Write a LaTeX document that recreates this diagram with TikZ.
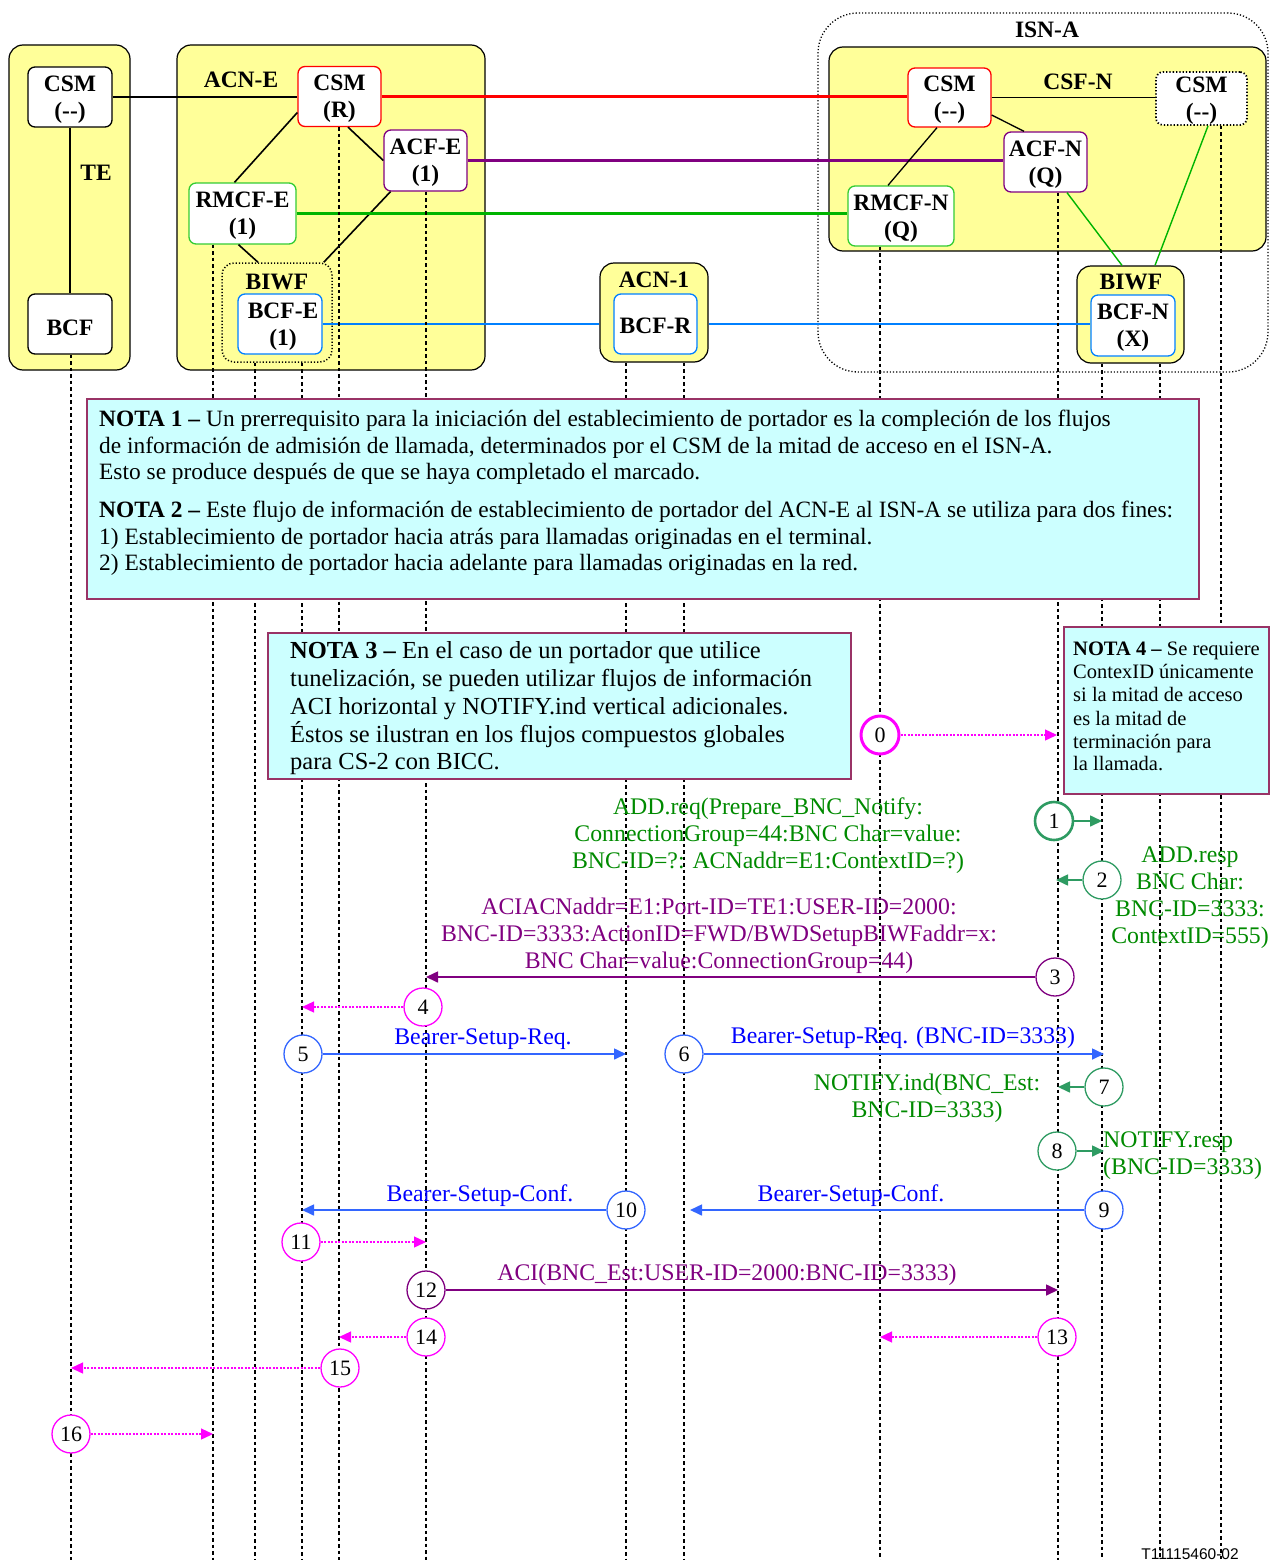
\documentclass[tikz,border=0pt]{standalone}
\usepackage{fontspec}
\setmainfont{Liberation Serif}
\newfontfamily\footfont{Liberation Sans}
\usetikzlibrary{arrows.meta}
\definecolor{yel}{HTML}{FFFF99}
\definecolor{cyanfill}{HTML}{CCFFFF}
\definecolor{noteb}{HTML}{993366}
\definecolor{cred}{HTML}{FF0000}
\definecolor{cpurp}{HTML}{800080}
\definecolor{cgreen}{HTML}{00B400}
\definecolor{cboxgreen}{HTML}{33CC33}
\definecolor{cblue}{HTML}{0080FF}
\definecolor{mblue}{HTML}{3366FF}
\definecolor{tblue}{HTML}{0000FF}
\definecolor{mgreen}{HTML}{2E9B62}
\definecolor{tgreen}{HTML}{008A00}
\definecolor{cmag}{HTML}{FF00FF}
\newcommand\lblfont{\bfseries\fontsize{23.5}{27}\selectfont}
\newcommand\noteAfont{\fontsize{23.4}{26.5}\selectfont}
\newcommand\noteCfont{\fontsize{24.5}{27.7}\selectfont}
\newcommand\noteDfont{\fontsize{20.5}{23}\selectfont}
\newcommand\msgfont{\fontsize{23.8}{27}\selectfont}
\newcommand\numfont{\fontsize{22}{22}\selectfont}
\begin{document}
\begin{tikzpicture}[x=1pt,y=-1pt,
  grp/.style={draw=black, fill=yel, rounded corners=14pt, line width=1.2pt, inner sep=0pt},
  fn/.style={draw=#1, fill=white, rounded corners=7pt, line width=1.3pt, align=center, inner sep=0pt, text depth=0pt, font=\lblfont},
  glabel/.style={font=\lblfont, inner sep=0pt},
  sline/.style={draw=black, line width=1.6pt},
  cline/.style={draw=#1, line width=2.2pt},
  life/.style={draw=black, line width=1.6pt, dash pattern=on 3.5pt off 3pt},
  notebox/.style={draw=noteb, fill=cyanfill, line width=2pt, inner sep=0pt},
  ntxt/.style={anchor=base west, inner sep=0pt},
  num/.style={circle, draw=#1, fill=white, minimum size=38pt, inner sep=0pt, line width=1.3pt, font=\numfont},
  msg/.style={draw=#1, line width=1.6pt, -{Triangle[length=12pt,width=11pt]}},
  dmsg/.style={draw=cmag, line width=1.3pt, dash pattern=on 2pt off 1.5pt, -{Triangle[length=12pt,width=11pt]}},
  mlabel/.style={text=#1, font=\msgfont, align=center, inner sep=0pt},
]
\useasboundingbox (0,0) rectangle (1270,1560);

% ---------- groups ----------
\node[grp, draw=black, dotted, fill=none, rounded corners=40pt, line width=1.3pt, minimum width=450pt, minimum height=359pt] (isnA) at (1043,192.5) {};
\node[glabel] (isnAl) at (1047,30) {ISN-A};
\node[grp, minimum width=121pt, minimum height=325pt] (te) at (69.5,207.5) {};
\node[grp, minimum width=308pt, minimum height=325pt] (acnE) at (331,207.5) {};
\node[grp, dotted, line width=1.5pt, rounded corners=12pt, minimum width=110pt, minimum height=99pt] (biwfE) at (277,312.5) {};
\node[grp, minimum width=108pt, minimum height=99pt] (acn1) at (654,312.5) {};
\node[grp, minimum width=437pt, minimum height=204pt] (csfN) at (1047.5,149) {};
\node[grp, minimum width=107pt, minimum height=97pt] (biwfN) at (1130.5,314.5) {};

\node[glabel] (tel) at (96,173) {TE};
\node[glabel] (acnEl) at (241,80) {ACN-E};
\node[glabel] (biwfEl) at (277,282) {BIWF};
\node[glabel] (acn1l) at (654,280) {ACN-1};
\node[glabel] (csfNl) at (1078,82) {CSF-N};
\node[glabel] (biwfNl) at (1131,282) {BIWF};

% ---------- functional entities ----------
\node[fn=black, minimum width=84pt, minimum height=60pt] (csmL) at (70,97) {CSM\\(-{}-)};
\node[fn=black, minimum width=84pt, minimum height=60pt, text height=22pt] (bcf) at (70,324) {BCF};
\node[fn=cred, minimum width=83pt, minimum height=60pt] (csmR) at (339.5,96.5) {CSM\\(R)};
\node[fn=cpurp, minimum width=83pt, minimum height=61pt] (acfE) at (425.5,160.5) {ACF-E\\(1)};
\node[fn=cboxgreen, minimum width=107pt, minimum height=61pt] (rmcfE) at (242.5,213.5) {RMCF-E\\(1)};
\node[fn=cblue, minimum width=84pt, minimum height=60pt] (bcfE) at (280,324) {\hspace*{6pt}BCF-E\\\hspace*{6pt}(1)};
\node[fn=cblue, minimum width=83pt, minimum height=60pt, text height=18pt] (bcfR) at (655.5,324) {BCF-R};
\node[fn=cred, minimum width=83pt, minimum height=59pt] (csmN) at (949.5,97.5) {CSM\\(-{}-)};
\node[fn=black, dotted, line width=1.8pt, minimum width=91pt, minimum height=53pt] (csmD) at (1201.5,98.5) {CSM\\(-{}-)};
\node[fn=cpurp, minimum width=83pt, minimum height=60pt] (acfN) at (1045.5,162) {ACF-N\\(Q)};
\node[fn=cboxgreen, minimum width=106pt, minimum height=60pt] (rmcfN) at (901,216) {RMCF-N\\(Q)};
\node[fn=cblue, minimum width=84pt, minimum height=61pt] (bcfN) at (1133,325.5) {BCF-N\\(X)};

% ---------- structural links ----------
\draw[sline] (csmL.east) -- (csmR.west |- csmL.east);
\draw[sline] (csmL.south) -- (bcf.north);
\draw[sline] ([yshift=-16pt]csmR.west) -- ([xshift=-8pt]rmcfE.north);
\draw[sline] ([xshift=8.5pt]csmR.south) -- (acfE.west);
\draw[sline] ([xshift=-35pt]acfE.south) -- ([xshift=-9pt]biwfE.north east);
\draw[sline] ([xshift=-4pt]rmcfE.south) -- ([xshift=-19pt]biwfE.north);
\draw[cline=cred] (csmR.east) -- (csmN.west |- csmR.east);
\draw[cline=cpurp] (acfE.east) -- (acfN.west |- acfE.east);
\draw[cline=cgreen] (rmcfE.east) -- (rmcfN.west |- rmcfE.east);
\draw[cline=cblue] (bcfE.east) -- (acn1.west |- bcfE.east);
\draw[cline=cblue] (acn1.east |- bcfE.east) -- (bcfN.west |- bcfE.east);
\draw[sline] (csmN.east) -- (csmD.west |- csmN.east);
\draw[draw=black, line width=1.3pt] ([xshift=-12.5pt]csmN.south) -- ([xshift=-13pt]rmcfN.north);
\draw[draw=black, line width=1.3pt] ([yshift=-17.5pt]csmN.east) -- ([xshift=-21.5pt]acfN.north);
\draw[draw=cgreen, line width=1.4pt] ([xshift=21.5pt]acfN.south) -- ([xshift=-8.5pt]biwfN.north);
\draw[draw=cgreen, line width=1.4pt] ([xshift=6.5pt]csmD.south) -- ([xshift=24.5pt]biwfN.north);

% ---------- lifelines ----------
\draw[life] (bcf.south -| 71,0) -- (71,1560);
\draw[life] (rmcfE.south -| 213,0) -- (213,1560);
\draw[life] (biwfE.south -| 255,0) -- (255,1560);
\draw[life] (biwfE.south -| 302,0) -- (302,1560);
\draw[life] (csmR.south -| 339,0) -- (339,1560);
\draw[life] (acfE.south -| 426,0) -- (426,1560);
\draw[life] (acn1.south -| 626,0) -- (626,1560);
\draw[life] (acn1.south -| 684,0) -- (684,1560);
\draw[life] (rmcfN.south -| 880,0) -- (880,1560);
\draw[life] (acfN.south -| 1058,0) -- (1058,1560);
\draw[life] (biwfN.south -| 1102,0) -- (1102,1560);
\draw[life] (biwfN.south -| 1160,0) -- (1160,1560);
\draw[life] (csmD.south -| 1221,0) -- (1221,1560);

% ---------- notes ----------
\node[notebox, minimum width=1112pt, minimum height=200pt] (note12) at (643,498.5) {};
\begin{scope}[every node/.style={ntxt, font=\noteAfont}]
\node (n1a) at (99,426) {\textbf{NOTA 1 –} Un prerrequisito para la iniciación del establecimiento de portador es la compleción de los flujos};
\node (n1b) at (99,453) {de información de admisión de llamada, determinados por el CSM de la mitad de acceso en el ISN-A.};
\node (n1c) at (99,479) {Esto se produce después de que se haya completado el marcado.};
\node (n2a) at (99,517) {\textbf{NOTA 2 –} Este flujo de información de establecimiento de portador del ACN-E al ISN-A se utiliza para dos fines:};
\node (n2b) at (99,544) {1) Establecimiento de portador hacia atrás para llamadas originadas en el terminal.};
\node (n2c) at (99,570) {2) Establecimiento de portador hacia adelante para llamadas originadas en la red.};
\end{scope}

\node[notebox, minimum width=583pt, minimum height=146pt] (note3) at (559.5,706) {};
\begin{scope}[every node/.style={ntxt, font=\noteCfont}]
\node (n3a) at (290,658) {\textbf{NOTA 3 –} En el caso de un portador que utilice};
\node (n3b) at (290,686) {tunelización, se pueden utilizar flujos de información};
\node (n3c) at (290,714) {ACI horizontal y NOTIFY.ind vertical adicionales.};
\node (n3d) at (290,742) {Éstos se ilustran en los flujos compuestos globales};
\node (n3e) at (290,769) {para CS-2 con BICC.};
\end{scope}

\node[notebox, minimum width=205pt, minimum height=167pt] (note4) at (1166.5,710.5) {};
\begin{scope}[every node/.style={ntxt, font=\noteDfont}]
\node (n4a) at (1073,655) {\textbf{NOTA 4 –} Se requiere};
\node (n4b) at (1073,678) {ContexID únicamente};
\node (n4c) at (1073,701) {si la mitad de acceso};
\node (n4d) at (1073,725) {es la mitad de};
\node (n4e) at (1073,748) {terminación para};
\node (n4f) at (1073,770) {la llamada.};
\end{scope}

% ---------- messages ----------
\node[num=cmag, line width=3pt] (c0) at (880,735) {0};
\coordinate (t0) at (1057,735);
\draw[dmsg] (c0) -- (t0);

\node[num=mgreen, line width=2.6pt] (c1) at (1054,821) {1};
\coordinate (t1) at (1102,821);
\draw[msg=mgreen] (c1) -- (t1);
\node[mlabel=tgreen] (l1) at (768,836) {ADD.req(Prepare\_BNC\_Notify:\\ConnectionGroup=44:BNC Char=value:\\BNC-ID=?: ACNaddr=E1:ContextID=?)};

\node[num=mgreen] (c2) at (1102,880) {2};
\coordinate (t2) at (1056,880);
\draw[msg=mgreen] (c2) -- (t2);
\node[mlabel=tgreen] (l2) at (1190,897.5) {ADD.resp\\BNC Char:\\BNC-ID=3333:\\ContextID=555)};

\node[num=cpurp] (c3) at (1055,977) {3};
\coordinate (t3) at (426,977);
\draw[msg=cpurp] (c3) -- (t3);
\node[mlabel=cpurp] (l3) at (719,936) {ACIACNaddr=E1:Port-ID=TE1:USER-ID=2000:\\BNC-ID=3333:ActionID=FWD/BWDSetupBIWFaddr=x:\\BNC Char=value:ConnectionGroup=44)};

\node[num=cmag] (c4) at (423,1007) {4};
\coordinate (t4) at (302,1007);
\draw[dmsg] (c4) -- (t4);

\node[num=mblue] (c5) at (303,1054) {5};
\coordinate (t5) at (626,1054);
\draw[msg=mblue] (c5) -- (t5);
\node[mlabel=tblue] (l5) at (483,1039) {Bearer-Setup-Req.};

\node[num=mblue] (c6) at (684,1054) {6};
\coordinate (t6) at (1104,1054);
\draw[msg=mblue] (c6) -- (t6);
\node[mlabel=tblue] (l6) at (903,1038) {Bearer-Setup-Req. (BNC-ID=3333)};

\node[num=mgreen] (c7) at (1104,1087) {7};
\coordinate (t7) at (1058,1087);
\draw[msg=mgreen] (c7) -- (t7);
\node[mlabel=tgreen] (l7) at (927,1098.5) {NOTIFY.ind(BNC\_Est:\\BNC-ID=3333)};

\node[num=mgreen] (c8) at (1057,1151) {8};
\coordinate (t8) at (1104,1151);
\draw[msg=mgreen] (c8) -- (t8);
\node[mlabel=tgreen, align=left, anchor=west] (l8) at (1103,1155.5) {NOTIFY.resp\\(BNC-ID=3333)};

\node[num=mblue] (c9) at (1104,1210) {9};
\coordinate (t9) at (690,1210);
\draw[msg=mblue] (c9) -- (t9);
\node[mlabel=tblue] (l9) at (851,1196) {Bearer-Setup-Conf.};

\node[num=mblue] (c10) at (626,1210) {10};
\coordinate (t10) at (302,1210);
\draw[msg=mblue] (c10) -- (t10);
\node[mlabel=tblue] (l10) at (480,1196) {Bearer-Setup-Conf.};

\node[num=cmag] (c11) at (301,1242) {11};
\coordinate (t11) at (426,1242);
\draw[dmsg] (c11) -- (t11);

\node[num=cpurp] (c12) at (426,1290) {12};
\coordinate (t12) at (1058,1290);
\draw[msg=cpurp] (c12) -- (t12);
\node[mlabel=cpurp] (l12) at (727,1275) {ACI(BNC\_Est:USER-ID=2000:BNC-ID=3333)};

\node[num=cmag] (c13) at (1057,1337) {13};
\coordinate (t13) at (880,1337);
\draw[dmsg] (c13) -- (t13);

\node[num=cmag] (c14) at (426,1337) {14};
\coordinate (t14) at (339,1337);
\draw[dmsg] (c14) -- (t14);

\node[num=cmag] (c15) at (340,1368) {15};
\coordinate (t15) at (71,1368);
\draw[dmsg] (c15) -- (t15);

\node[num=cmag] (c16) at (71,1434) {16};
\coordinate (t16) at (213,1434);
\draw[dmsg] (c16) -- (t16);

\node[anchor=base, inner sep=0pt, font=\footfont\fontsize{15.5}{16}\selectfont] (foot) at (1190,1559) {T11115460-02};
\end{tikzpicture}
\end{document}
